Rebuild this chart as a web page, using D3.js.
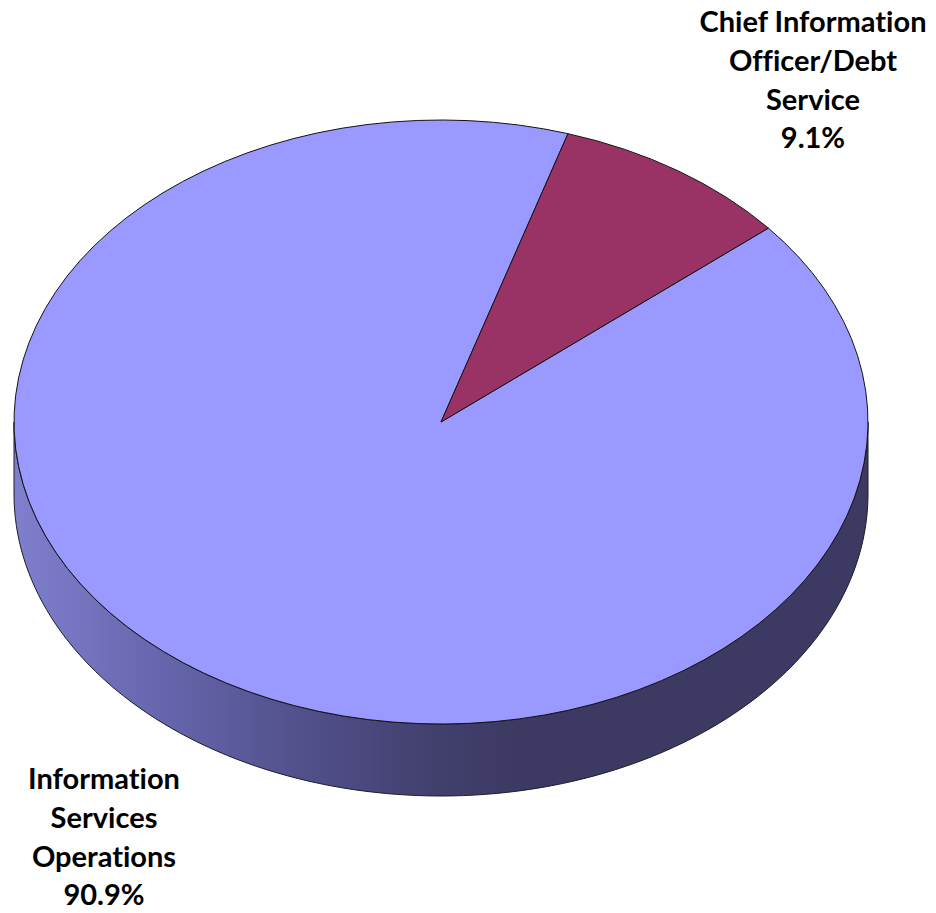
<!DOCTYPE html>
<html>
<head>
<meta charset="utf-8">
<script src="https://cdn.jsdelivr.net/npm/d3@7"></script>
<style>
  html, body { margin: 0; padding: 0; background: #fff; }
  svg { display: block; }
</style>
</head>
<body>
<script>
// Budget share by program
const categories = ["Information Services Operations", "Chief Information Officer/Debt Service"];
const values = [90.9, 9.1];
const labelLines = [
  ["Information", "Services", "Operations", "90.9%"],
  ["Chief Information", "Officer/Debt", "Service", "9.1%"]
];
const topColors = ["#9999FF", "#993366"];

const W = 936, H = 913;
const cx = 441, cy = 422, rx = 427, ry = 302, depth = 72;
const startDeg = 50.06;

const svg = d3.select("body").append("svg").attr("width", W).attr("height", H);

// Side shading: light on the left, darker toward the right
const defs = svg.append("defs");
const grad = defs.append("linearGradient").attr("id", "sideGrad")
  .attr("gradientUnits", "userSpaceOnUse")
  .attr("x1", cx - rx).attr("x2", cx + rx).attr("y1", 0).attr("y2", 0);
[[0, "#7f7fce"], [0.2, "#6262a8"], [0.37, "#4e4c84"], [0.5, "#413f6c"], [0.6, "#3c3a62"], [1, "#3c3a62"]]
  .forEach(([o, c]) => grad.append("stop").attr("offset", o).attr("stop-color", c));

const pie = d3.pie().sort(null)
  .startAngle(startDeg * Math.PI / 180)
  .endAngle(startDeg * Math.PI / 180 + 2 * Math.PI);
const arcs = pie(values);

// Point on the ellipse for a pie angle (0 = 12 o'clock, clockwise)
const pt = (a, dy = 0) => [cx + rx * Math.sin(a), cy - ry * Math.cos(a) + dy];

// Front wall: portions of each slice lying in the visible lower half
const sideG = svg.append("g");
arcs.forEach((d, i) => {
  for (let k = -1; k <= 1; k++) {
    const lo = Math.max(d.startAngle, Math.PI / 2 + k * 2 * Math.PI);
    const hi = Math.min(d.endAngle, 3 * Math.PI / 2 + k * 2 * Math.PI);
    if (hi <= lo) continue;
    const n = 120;
    const top = d3.range(n + 1).map(j => pt(lo + (hi - lo) * j / n));
    const bot = d3.range(n + 1).map(j => pt(hi - (hi - lo) * j / n, depth));
    sideG.append("path")
      .attr("d", d3.line()(top.concat(bot)) + "Z")
      .attr("fill", i === 0 ? "url(#sideGrad)" : d3.color(topColors[i]).darker(1.2))
      .attr("stroke", "#1c1c2a").attr("stroke-width", 1).attr("stroke-linejoin", "round");
  }
});

// Top surface slices
const arc = d3.arc().innerRadius(0).outerRadius(rx);
svg.append("g")
  .attr("transform", `translate(${cx},${cy}) scale(1,${ry / rx})`)
  .selectAll("path").data(arcs).join("path")
  .attr("d", arc)
  .attr("fill", (d, i) => topColors[i])
  .attr("stroke", "#141414").attr("stroke-width", 1)
  .attr("vector-effect", "non-scaling-stroke")
  .attr("stroke-linejoin", "round");

// Category labels
const labelPos = [[104, 789], [813, 32]];
const lineGap = 38.8;
labelLines.forEach((lines, i) => {
  const t = svg.append("text")
    .attr("text-anchor", "middle")
    .attr("font-family", "Lato, 'Open Sans', sans-serif")
    .attr("font-weight", "bold")
    .attr("font-size", 29)
    .style("font-variant-ligatures", "none")
    .attr("fill", "#000");
  lines.forEach((s, j) => {
    t.append("tspan").attr("x", labelPos[i][0]).attr("y", labelPos[i][1] + j * lineGap).text(s);
  });
});
</script>
</body>
</html>
